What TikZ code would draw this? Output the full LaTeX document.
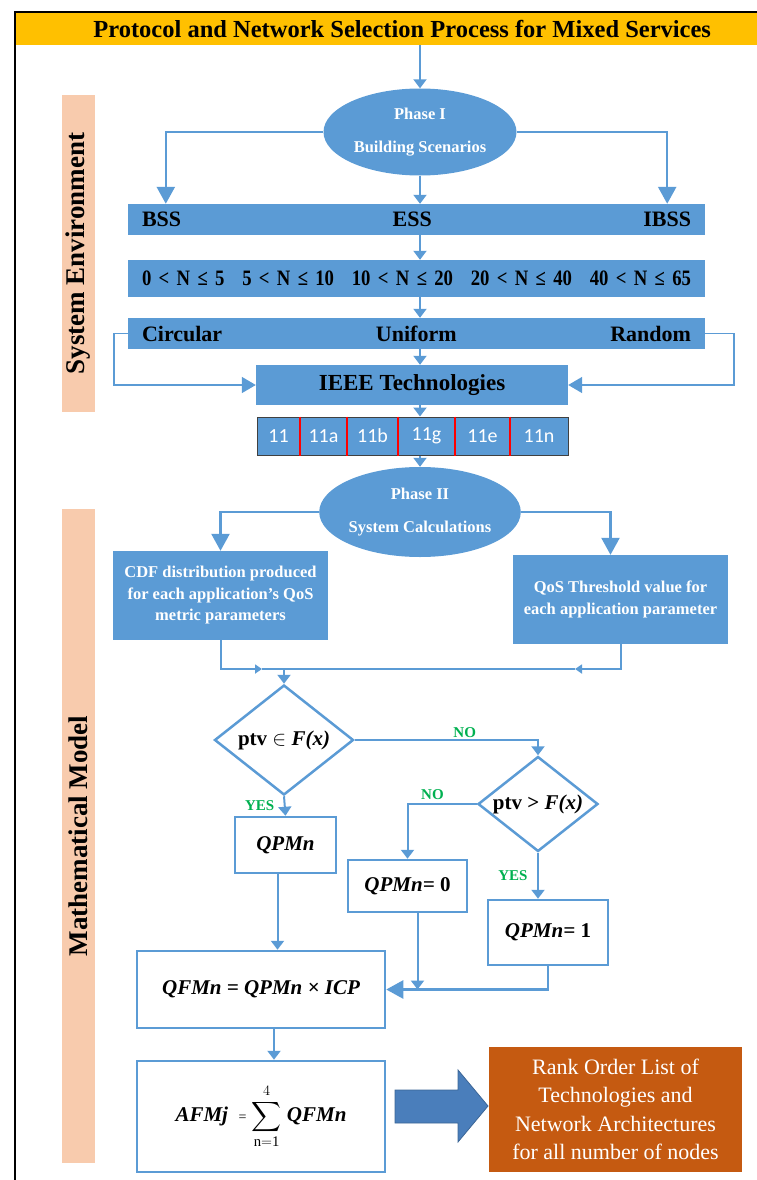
\documentclass[tikz,border=0pt]{standalone}
\usepackage{exscale}
\usepackage{fontspec}
\setmainfont{Liberation Serif}
\newfontfamily\narrowfont[FakeStretch=0.85]{Liberation Serif}
\newfontfamily\calibrifont{Carlito}
\usetikzlibrary{positioning,shapes.geometric,arrows.meta}
\definecolor{fillblue}{HTML}{5B9BD5}
\definecolor{arrowblue}{HTML}{4A7EBB}
\definecolor{titleyellow}{HTML}{FFC000}
\definecolor{sidepeach}{HTML}{F8CBAD}
\definecolor{rankorange}{HTML}{C55A11}
\definecolor{labelgreen}{HTML}{00B050}
\newcommand{\fsize}[2]{\fontsize{#1}{#2}\selectfont}

\begin{document}
\begin{tikzpicture}[x=1pt,y=-1pt,
		link/.style={draw=fillblue, line width=2pt},
		arr/.style={link, -{Triangle[length=9pt,width=13pt]}},
		bigarr/.style={link, line width=2.5pt, -{Triangle[length=17pt,width=18pt]}},
		sidearr/.style={link, line width=1.5pt, -{Triangle[length=14pt,width=16pt]}},
		midarr/.style={link, -{Triangle[length=7pt,width=9pt]}},
		phase/.style={ellipse, fill=fillblue, text=white, inner sep=0pt, align=center, font=\fsize{16.5}{33}\bfseries},
		bar/.style={fill=fillblue, minimum width=577pt, minimum height=31pt, inner sep=0pt, text width=549pt, align=left, font=\fsize{22}{26}\bfseries},
		calcbox/.style={fill=fillblue, text=white, inner sep=0pt, align=center, font=\fsize{16.5}{21.5}\bfseries},
		decide/.style={diamond, draw=fillblue, line width=2.5pt, fill=white, inner sep=0pt, aspect=1.26, font=\fsize{21}{21}\bfseries},
		result/.style={draw=fillblue, line width=2.5pt, fill=white, inner sep=0pt, font=\fsize{21}{21}\bfseries\itshape},
		answer/.style={text=labelgreen, inner sep=1.5pt, font=\fsize{15}{15}\bfseries},
		side/.style={fill=sidepeach, rotate=90, minimum height=33pt, inner sep=0pt, font=\fsize{27}{27}\bfseries},
		cell/.style={text=white, inner sep=0pt, font=\calibrifont\fsize{20}{20}}]

	\clip (0,0) rectangle (757,1180);

	% title and frame
	\node[anchor=west, fill=titleyellow, minimum width=774pt, minimum height=33pt, inner sep=0pt, font=\fsize{24.5}{24.5}\bfseries] (title) at (15,28.5) {Protocol and Network Selection Process for Mixed Services};
	\draw[line width=1.5pt] (15,1180) -- (15,12) -- (757,12);

	% side labels
	\node[side, minimum width=317pt] (envlabel) at (78.5,253.5) {System Environment};
	\node[side, minimum width=654pt] (mathlabel) at (78.5,836) {Mathematical Model};

	% phase I
	\node[phase, minimum width=193pt, minimum height=87pt] (ph1) at (420,132) {Phase I\\Building Scenarios};
	\node[bar] (bss) at (416.5,219.5) {BSS\hfill ESS\hfill IBSS};
	\node[bar, minimum height=37pt, font=\narrowfont\fsize{22}{26}\bfseries] (count) at (416.5,278.5) {0 < N ≤ 5\hfill 5 < N ≤ 10\hfill 10 < N ≤ 20\hfill 20 < N ≤ 40\hfill 40 < N ≤ 65};
	\node[bar] (place) at (416.5,333.5) {Circular\hfill Uniform\hfill Random};
	\node[fill=fillblue, minimum width=312pt, minimum height=40pt, inner sep=0pt, font=\fsize{23}{23}\bfseries] (ieee) at (412,385) {IEEE Technologies};
	\node[draw=black!75, line width=1pt, fill=fillblue, minimum width=311pt, minimum height=38pt, inner sep=0pt] (strip) at (412.5,436) {};
	\foreach \x in {300,347,398,455,510}
		\draw[red, line width=2.5pt] (\x,0 |- strip.north) -- (\x,0 |- strip.south);
	\foreach \a/\b/\t in {257/300/11,300/347/11a,347/398/11b,398/455/11g,455/510/11e,510/568/11n}
		\node[cell] (tech\t) at ({(\a+\b)/2},436) {\t};

	\draw[arr] (ph1 |- title.south) -- (ph1.north);
	\draw[bigarr] (ph1.west) -| ([xshift=38pt]bss.north west);
	\draw[bigarr] (ph1.east) -| ([xshift=-38pt]bss.north east);
	\draw[arr] (ph1.south) -- (ph1 |- bss.north);
	\draw[arr] (ph1 |- bss.south) -- (ph1 |- count.north);
	\draw[arr] (ph1 |- count.south) -- (ph1 |- place.north);
	\draw[arr] (ph1 |- place.south) -- (ph1 |- ieee.north);
	\draw[sidearr] (place.west) -- ++(-14,0) |- (ieee.west);
	\draw[sidearr] (place.east) -- ++(29,0) |- (ieee.east);
	\draw[arr] (ph1 |- ieee.south) -- (ph1 |- strip.north);

	% phase II
	\node[phase, minimum width=192pt, minimum height=90pt] (ph2) at (420,512) {Phase II\\System Calculations};
	\draw[arr] (ph1 |- strip.south) -- (ph2.north);
	\node[calcbox, minimum width=215pt, minimum height=89pt] (cdf) at (220.5,595.5) {CDF distribution produced\\for each application's QoS\\metric parameters};
	\node[calcbox, minimum width=215pt, minimum height=89pt] (qos) at (620.5,599.5) {QoS Threshold value for\\each application parameter};
	\draw[bigarr] (ph2.west) -| (cdf.north);
	\draw[bigarr] (ph2.east) -| ([xshift=-10pt]qos.north);

	\coordinate (join) at (284,669);
	\coordinate (cdfin) at (262,669);
	\coordinate (qosin) at (575,669);
	\draw[midarr] (cdf.south) |- (cdfin);
	\draw[link] (cdfin) -- (join);
	\draw[midarr] (qos.south) |- (qosin);
	\draw[link] (qosin) -- (join);

	% decisions
	\node[decide, minimum width=139pt, minimum height=110pt] (inrange) at (284,740) {ptv $\in$ \textit{F(x)}};
	\node[decide, minimum width=120pt, minimum height=95pt] (above) at (538,804) {ptv > \textit{F(x)}};
	\node[result, minimum width=101pt, minimum height=56pt] (qpm) at (285.5,845) {QPMn};
	\node[result, minimum width=119pt, minimum height=52pt] (qzero) at (407.5,886) {QPMn= \upshape 0};
	\node[result, minimum width=120pt, minimum height=65pt] (qone) at (548,932.5) {QPMn= \upshape 1};
	\node[result, minimum width=248pt, minimum height=77pt] (qfm) at (261,989.5) {QFMn = QPMn × ICP};
	\node[result, minimum width=248pt, minimum height=111pt] (afm) at (261,1116.5) {AFMj\ \ {\upshape\mdseries\fsize{14}{14}=} $\displaystyle\sum_{\mathrm{n=1}}^{4}$ QFMn};
	\node[fill=rankorange, text=white, minimum width=253pt, minimum height=125pt, inner sep=0pt, align=center, font=\fsize{22}{28.5}] (rank) at (615.5,1109.5) {Rank Order List of\\Technologies and\\Network Architectures\\for all number of nodes};

	\draw[arr] (join) -- (inrange.north);
	\draw[arr] (inrange.east) -| (above.north) node[answer, pos=0.3, above] {NO};
	\draw[arr] (above.west) -| (qzero.north) node[answer, pos=0.32, above=2pt] {NO};
	\draw[arr] (above.south) -- (above.south |- qone.north) node[answer, midway, left=8pt] {YES};
	\draw[arr] (inrange.south) -- (qpm.north) node[answer, midway, left=8pt] {YES};
	\draw[arr] ([xshift=-8pt]qpm.south) -- ([xshift=-8pt]qpm.south |- qfm.north);
	\draw[arr] ([xshift=10pt]qzero.south) -- ([xshift=10pt]qzero.south |- qfm.east);
	\draw[bigarr] (qone.south) |- (qfm.east);
	\draw[arr] ([xshift=13pt]qfm.south) -- ([xshift=13pt]afm.north);

	% block arrow to ranking
	\filldraw[fill=arrowblue, draw=arrowblue!80!black, line width=0.8pt] (395,1090) -- (458,1090) -- (458,1070) -- (488,1106) -- (458,1142) -- (458,1123) -- (395,1123) -- cycle;

\end{tikzpicture}
\end{document}
